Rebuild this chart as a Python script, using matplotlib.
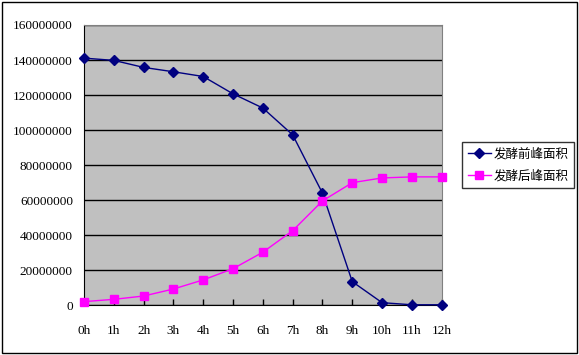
import matplotlib
matplotlib.use("Agg")
import matplotlib.pyplot as plt
from matplotlib.patches import Rectangle

# data
hours = ["0h", "1h", "2h", "3h", "4h", "5h", "6h", "7h", "8h", "9h", "10h", "11h", "12h"]
before = [141.1e6, 139.8e6, 135.8e6, 133.3e6, 130.6e6, 120.7e6, 112.6e6, 97.3e6,
          64.0e6, 13.5e6, 1.5e6, 0.3e6, 0.3e6]
after = [2.1e6, 3.4e6, 5.3e6, 9.3e6, 14.5e6, 20.9e6, 30.3e6, 42.6e6,
         59.6e6, 70.0e6, 72.7e6, 73.3e6, 73.3e6]
series_names = ["发酵前峰面积", "发酵后峰面积"]
yticks = [0, 20000000, 40000000, 60000000, 80000000, 100000000, 120000000, 140000000, 160000000]

plt.rcParams['font.family'] = ['Liberation Serif', 'Noto Sans CJK SC']

W, H = 579, 355
fig = plt.figure(figsize=(W / 100, H / 100), dpi=100)
ax = fig.add_axes([84 / W, 1 - 305.3 / H, (441.7 - 84) / W, (305.3 - 25) / H])
ax.set_facecolor("#C0C0C0")

x = list(range(len(hours)))
ax.plot(x, before, color="#000080", marker="D", markersize=5, linewidth=1,
        label=series_names[0], clip_on=False, zorder=3)
ax.plot(x, after, color="#FF00FF", marker="s", markersize=5.5, linewidth=1,
        label=series_names[1], clip_on=False, zorder=3)

ax.set_xlim(0, len(hours) - 1)
ax.set_ylim(0, 160000000)
ax.set_xticks(x)
ax.set_xticklabels(hours)
ax.set_yticks(yticks)
ax.set_yticklabels([str(v) for v in yticks])

ax.grid(axis="y", color="black", linewidth=1)
ax.set_axisbelow(True)
ax.tick_params(axis="x", direction="in", length=4, width=1, color="black",
               pad=14, labelsize=9.5)
ax.tick_params(axis="y", length=0, pad=8, labelsize=9.5)

for s in ["top", "right"]:
    ax.spines[s].set_color("#808080")
for s in ["left", "bottom"]:
    ax.spines[s].set_color("black")

leg = ax.legend(loc="upper left", bbox_to_anchor=(462 / W, 1 - 141.7 / H),
                bbox_transform=fig.transFigure, borderaxespad=0,
                fancybox=False, frameon=True, edgecolor="black",
                prop={"family": "Noto Sans CJK SC", "size": 9},
                handlelength=1.9, handletextpad=0.15, labelspacing=0.7,
                borderpad=0.45)
leg.get_frame().set_linewidth(1)

# outer chart border
fig.patches.append(Rectangle((2 / W, 2 / H), 575 / W, 351 / H, transform=fig.transFigure,
                             fill=False, edgecolor="black", linewidth=1))

fig.savefig("out.png", dpi=100)
